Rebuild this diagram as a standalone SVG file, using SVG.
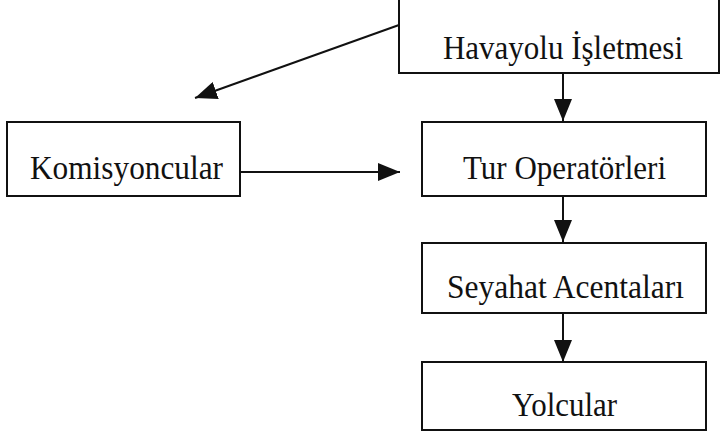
<svg xmlns="http://www.w3.org/2000/svg" width="724" height="436" viewBox="0 0 724 436">
<style>
.box{fill:#fff;stroke:#111;stroke-width:2}
.lbl{font-family:"Liberation Serif","Times New Roman",serif;font-size:34px;fill:#111;text-anchor:middle}
.edge{stroke:#111;stroke-width:2;fill:none}
</style>
<defs>
<marker id="ah" viewBox="0 0 22 18" refX="22" refY="9" markerWidth="22" markerHeight="18" markerUnits="userSpaceOnUse" orient="auto">
<path d="M0,0 L22,9 L0,18 Z" fill="#111"/>
</marker>
</defs>
<rect width="724" height="436" fill="#fff"/>
<g id="havayolu"><rect class="box" x="399" y="-1" width="320" height="74"/><text class="lbl" x="563" y="59" textLength="240" lengthAdjust="spacingAndGlyphs">Havayolu İşletmesi</text></g>
<g id="komisyoncular"><rect class="box" x="7" y="122" width="233" height="74"/><text class="lbl" x="126.5" y="179" textLength="193" lengthAdjust="spacingAndGlyphs">Komisyoncular</text></g>
<g id="tur"><rect class="box" x="422" y="122" width="284" height="74"/><text class="lbl" x="564.5" y="179" textLength="203" lengthAdjust="spacingAndGlyphs">Tur Operatörleri</text></g>
<g id="seyahat"><rect class="box" x="422" y="243" width="284" height="70"/><text class="lbl" x="565.5" y="298" textLength="237" lengthAdjust="spacingAndGlyphs">Seyahat Acentaları</text></g>
<g id="yolcular"><rect class="box" x="422" y="362" width="284" height="68"/><text class="lbl" x="564.5" y="416" textLength="105" lengthAdjust="spacingAndGlyphs">Yolcular</text></g>
<g id="connectors">
<line class="edge" x1="399" y1="25" x2="195" y2="98" marker-end="url(#ah)"/>
<line class="edge" x1="563" y1="73" x2="563" y2="121" marker-end="url(#ah)"/>
<line class="edge" x1="240" y1="172" x2="400" y2="172" marker-end="url(#ah)"/>
<line class="edge" x1="563" y1="196" x2="563" y2="242" marker-end="url(#ah)"/>
<line class="edge" x1="563" y1="313" x2="563" y2="362" marker-end="url(#ah)"/>
</g>
</svg>
